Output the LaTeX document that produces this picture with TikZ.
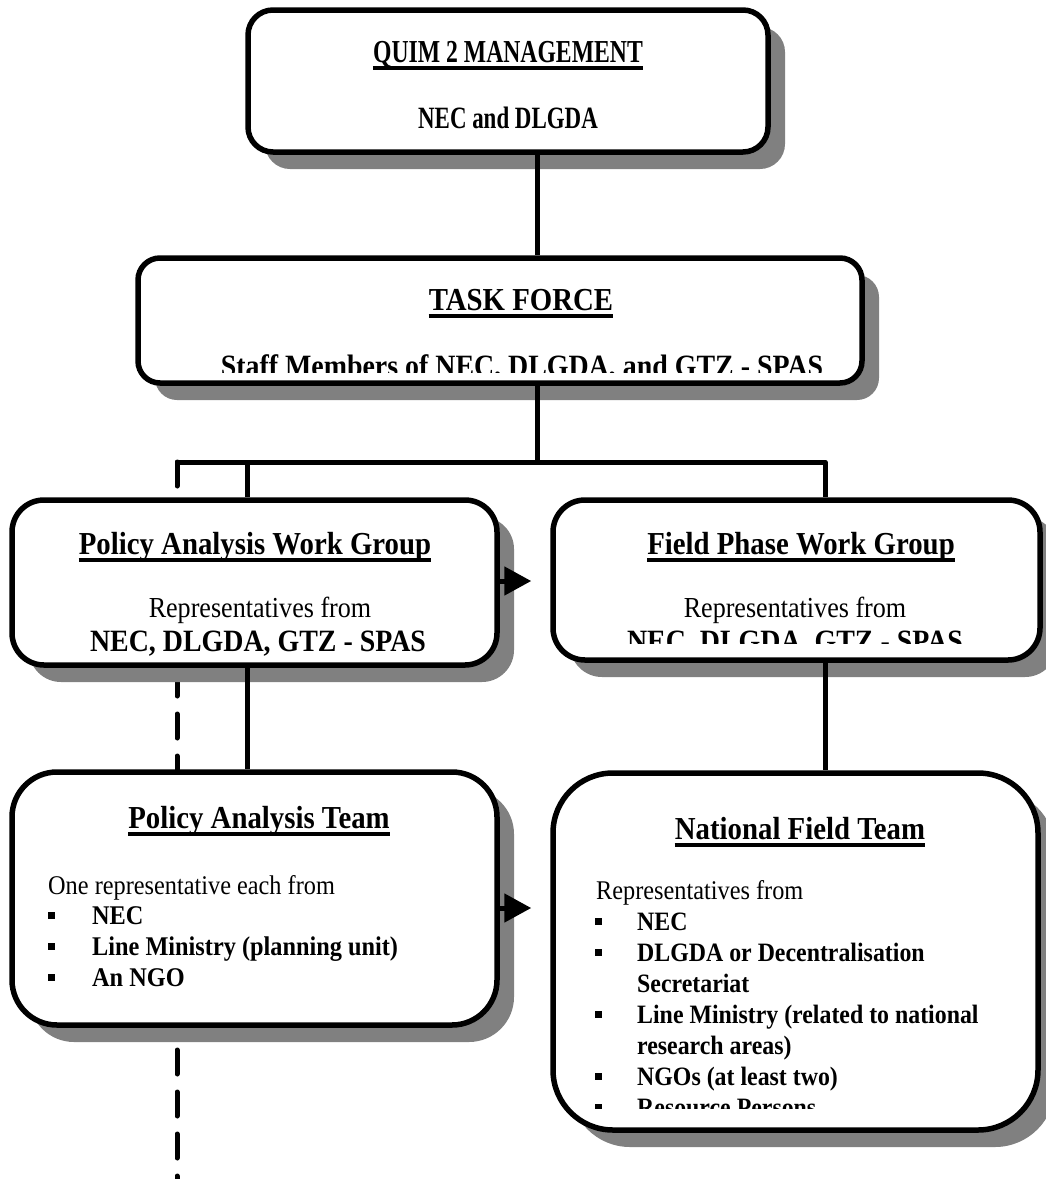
\documentclass[tikz,border=0pt]{standalone}
\usepackage{fontspec}
\setmainfont[FakeStretch=0.9]{Liberation Serif}
\newfontfamily\narrowserif[FakeStretch=0.74]{Liberation Serif}
\usepackage{tikz}
\usetikzlibrary{shadows,arrows.meta,positioning,calc}
\definecolor{shadowgray}{HTML}{808080}

\begin{document}
\begin{tikzpicture}[x=1pt, y=-1pt,
    box/.style={draw, line width=5.5pt, fill=white, inner sep=0pt, rounded corners=#1,
      drop shadow={shadow xshift=17pt, shadow yshift=-17pt, fill=shadowgray, opacity=1}},
    link/.style={line width=5pt, line join=round},
    dashlink/.style={line width=5pt, line cap=round, dash pattern=on 24pt off 18pt},
    arrow/.style={line width=5pt, -{Triangle[length=27pt,width=28pt]}, shorten >=19pt},
    title/.style={font=\fontsize{32}{36}\selectfont\bfseries, inner sep=0pt, anchor=base},
    boldline/.style={font=\fontsize{31}{34}\selectfont\bfseries, inner sep=0pt, anchor=base},
    plain/.style={font=\fontsize{29}{34}\selectfont, inner sep=0pt, anchor=base},
    lead/.style={font=\fontsize{27}{31}\selectfont, inner sep=0pt, anchor=base west},
    item/.style={font=\fontsize{27}{31}\selectfont\bfseries, inner sep=0pt, anchor=base west},
    bul/.style={fill, minimum size=7pt, inner sep=0pt},
    uline/.style={line width=3.5pt}]
  \useasboundingbox (0,0) rectangle (1046,1179);

  \coordinate (colD) at (177,462);
  \coordinate (colA) at (247,462);
  \coordinate (colT) at (537,462);
  \coordinate (colB) at (825,462);
  \coordinate (tail) at (177,1179);

  \draw[dashlink] (colD) -- (tail);

  \node[box=25pt, minimum width=520pt, minimum height=142pt] (quim) at (508,81) {};
  \node[box=22pt, minimum width=724pt, minimum height=125pt] (tf) at (500,320.5) {};
  \node[box=32pt, minimum width=485pt, minimum height=165pt] (pawg) at (254.5,582.5) {};
  \node[box=32pt, minimum width=487pt, minimum height=160pt] (fpwg) at (796.5,580) {};
  \node[box=45pt, minimum width=485pt, minimum height=253pt] (pat) at (254.5,898.5) {};
  \node[box=60pt, minimum width=485pt, minimum height=357pt] (nft) at (795.5,951.5) {};

  \draw[link] (quim.south -| colT) -- (tf.north -| colT);
  \draw[link] (tf.south -| colT) -- (colT);
  \draw[link] ([yshift=-23pt]colD) -- (colD) -- (colB) -- (fpwg.north -| colB);
  \draw[link] (colA) -- (pawg.north -| colA);
  \draw[link] (pawg.south -| colA) -- (pat.north -| colA);
  \draw[link] (fpwg.south -| colB) -- (nft.north -| colB);
  \draw[arrow] ([yshift=1.5pt]pawg.east) -- ([yshift=1.5pt]pawg.east -| fpwg.west);
  \draw[arrow] ([yshift=-9.5pt]pat.east) -- ([yshift=-9.5pt]pat.east -| nft.west);

  \node[title, font=\fontsize{32}{36}\narrowserif\bfseries] (qtitle) at (508,62) {QUIM 2 MANAGEMENT};
  \node[boldline, font=\fontsize{31}{34}\narrowserif\bfseries] (qsub) at (508,128) {NEC and DLGDA};

  \node[title] (tftitle) at (521,310) {TASK FORCE};
  \begin{scope}
    \clip (140,260) rectangle (860,372);
    \node[boldline] (tfsub) at (522,376) {Staff Members of NEC, DLGDA, and GTZ - SPAS};
  \end{scope}

  \node[title] (pawgtitle) at (255,554) {Policy Analysis Work Group};
  \node[plain] (pawgrep) at (260,617) {Representatives from};
  \node[boldline] (pawgorg) at (258,651) {NEC, DLGDA, GTZ - SPAS};

  \node[title] (fpwgtitle) at (801,554) {Field Phase Work Group};
  \node[plain] (fpwgrep) at (795,617) {Representatives from};
  \begin{scope}
    \clip (555,500) rectangle (1040,643);
    \node[boldline] (fpwgorg) at (795,651) {NEC, DLGDA, GTZ - SPAS};
  \end{scope}

  \node[title] (pattitle) at (259,828) {Policy Analysis Team};
  \node[lead] (patlead) at (48,894) {One representative each from};
  \foreach \y/\t [count=\i] in {924/NEC, 955/Line Ministry (planning unit), 986/An NGO} {
    \node[bul] (patb\i) at (51.5,\y-8.5) {};
    \node[item] (pati\i) at (92,\y) {\t};
  }

  \node[title] (nfttitle) at (800,839) {National Field Team};
  \node[lead] (nftlead) at (596,899) {Representatives from};
  \begin{scope}
    \clip (555,860) rectangle (1040,1108);
    \foreach \y/\t/\b [count=\i] in {930/NEC/1, 961/DLGDA or Decentralisation/1, 992/Secretariat/0,
        1023/Line Ministry (related to national/1, 1054/research areas)/0,
        1085/NGOs (at least two)/1, 1116/Resource Persons/1} {
      \ifnum\b=1 \node[bul] (nftb\i) at (598.5,\y-8.5) {};\fi
      \node[item, font=\fontsize{26.5}{31}\selectfont\bfseries] (nfti\i) at (637,\y) {\t};
    }
  \end{scope}

  \foreach \n in {qtitle, tftitle, pawgtitle, fpwgtitle, pattitle, nfttitle}
    \draw[uline] ([yshift=-6pt]\n.base west) -- ([yshift=-6pt]\n.base east);
\end{tikzpicture}
\end{document}
